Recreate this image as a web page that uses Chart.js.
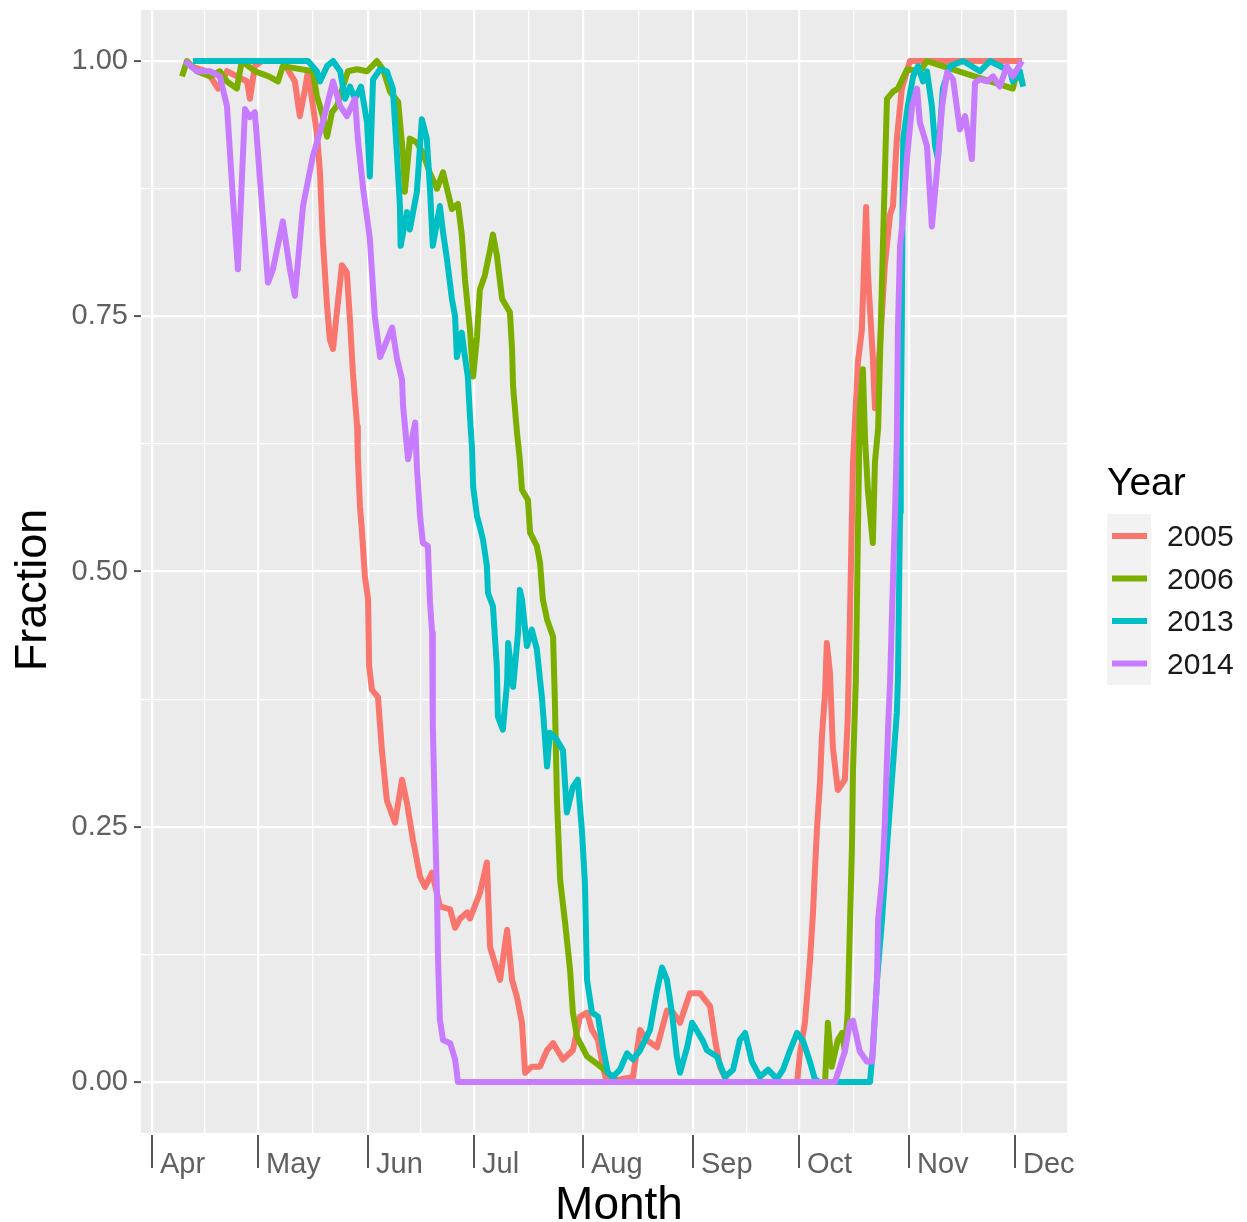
<!DOCTYPE html>
<html>
<head>
<meta charset="utf-8">
<script src="https://cdn.jsdelivr.net/npm/chart.js@4.4.1/dist/chart.umd.min.js"></script>
<style>
  html, body { margin: 0; padding: 0; background: #ffffff; }
  #wrap { position: relative; width: 1247px; height: 1222px; }
</style>
</head>
<body>
<div id="wrap"><canvas id="c" width="1247" height="1222"></canvas></div>
<script>
// ---- Data (x = days since 1 April, y = fraction) ----
const MONTH_LABELS = ['Apr', 'May', 'Jun', 'Jul', 'Aug', 'Sep', 'Oct', 'Nov', 'Dec'];
const MONTH_STARTS = [0, 30, 61, 91, 122, 153, 183, 214, 244];
const Y_TICKS = [0, 0.25, 0.5, 0.75, 1];
const YEARS = ['2005', '2006', '2013', '2014'];
const COLORS = ['#F8766D', '#7CAE00', '#00BFC4', '#C77CFF'];

const days2005 = [10.7, 15.6, 18.7, 21.2, 26.9, 27.7, 29.1, 31.1, 37.0, 40.4, 41.8, 43.3, 44.1, 46.6, 47.5, 48.3, 49.5, 50.3, 51.2, 52.3, 53.7, 55.1, 56.0, 56.8, 58.0, 58.2, 58.8, 59.4, 60.2, 61.1, 61.4, 62.2, 63.9, 65.0, 66.4, 68.7, 70.7, 72.1, 73.8, 75.8, 77.2, 79.2, 81.4, 84.3, 85.7, 87.1, 89.1, 89.9, 92.7, 94.7, 95.6, 98.4, 100.4, 101.8, 103.2, 104.6, 105.5, 107.4, 109.7, 111.7, 113.4, 116.2, 119.0, 121.0, 123.0, 124.4, 126.1, 127.5, 128.6, 136.0, 138.0, 139.9, 142.8, 145.6, 147.3, 149.3, 152.1, 154.9, 157.8, 159.2, 160.6, 162.6, 182.4, 183.2, 184.6, 186.0, 186.9, 187.4, 188.0, 188.9, 189.4, 190.3, 190.8, 191.7, 192.5, 193.9, 195.9, 196.7, 197.3, 198.2, 199.6, 200.7, 201.9, 202.4, 203.8, 204.4, 205.8, 207.2, 208.7, 209.5, 210.6, 212.0, 214.3, 246.0];
const frac2005 = [0.995, 0.99, 0.973, 0.99, 0.98, 0.963, 0.995, 1.0, 1.0, 0.98, 0.946, 0.973, 0.99, 0.93, 0.891, 0.825, 0.76, 0.727, 0.718, 0.755, 0.80, 0.793, 0.745, 0.695, 0.642, 0.613, 0.564, 0.538, 0.495, 0.473, 0.407, 0.384, 0.377, 0.325, 0.276, 0.254, 0.296, 0.273, 0.237, 0.201, 0.191, 0.205, 0.172, 0.169, 0.151, 0.16, 0.166, 0.16, 0.185, 0.215, 0.132, 0.10, 0.149, 0.10, 0.083, 0.058, 0.009, 0.015, 0.015, 0.031, 0.038, 0.022, 0.031, 0.064, 0.068, 0.051, 0.041, 0.015, 0.0, 0.005, 0.051, 0.041, 0.034, 0.07, 0.068, 0.058, 0.087, 0.087, 0.074, 0.041, 0.015, 0.0, 0.0, 0.028, 0.058, 0.117, 0.166, 0.205, 0.247, 0.296, 0.338, 0.381, 0.43, 0.40, 0.328, 0.286, 0.296, 0.355, 0.45, 0.607, 0.705, 0.737, 0.857, 0.793, 0.71, 0.66, 0.72, 0.80, 0.85, 0.858, 0.924, 0.973, 1.0, 1.0];

const days2006 = [8.5, 9.9, 12.7, 16.4, 19.2, 21.2, 24.0, 25.4, 29.1, 33.0, 35.6, 37.0, 45.5, 46.6, 48.3, 49.5, 50.9, 52.3, 54.0, 55.4, 58.0, 60.8, 63.6, 65.3, 67.3, 69.6, 71.0, 71.5, 72.9, 74.9, 76.6, 78.6, 80.6, 82.3, 83.4, 84.8, 86.5, 87.6, 88.5, 89.9, 90.8, 91.9, 92.7, 94.1, 95.6, 96.4, 97.5, 99.0, 101.2, 101.8, 102.1, 103.2, 104.0, 104.6, 106.3, 106.9, 108.8, 109.7, 110.5, 111.7, 113.4, 113.9, 114.2, 114.5, 115.4, 116.8, 118.2, 119.0, 120.2, 123.0, 126.1, 128.6, 131.5, 190.3, 191.1, 192.2, 193.9, 195.1, 195.9, 196.7, 197.3, 197.9, 198.2, 199.0, 199.6, 200.1, 201.0, 201.6, 202.4, 203.8, 204.4, 205.3, 205.8, 206.7, 207.8, 209.5, 210.9, 213.5, 217.1, 219.1, 243.4, 244.6, 246.0];
const frac2006 = [0.985, 1.0, 0.99, 0.985, 0.99, 0.98, 0.973, 1.0, 0.99, 0.985, 0.98, 0.995, 0.99, 0.966, 0.946, 0.926, 0.95, 0.956, 0.975, 0.99, 0.992, 0.99, 1.0, 0.992, 0.97, 0.96, 0.907, 0.872, 0.924, 0.92, 0.91, 0.89, 0.875, 0.891, 0.875, 0.855, 0.86, 0.83, 0.786, 0.737, 0.691, 0.73, 0.776, 0.79, 0.815, 0.83, 0.81, 0.767, 0.754, 0.718, 0.681, 0.636, 0.61, 0.58, 0.57, 0.538, 0.525, 0.509, 0.473, 0.453, 0.436, 0.375, 0.325, 0.276, 0.198, 0.156, 0.11, 0.068, 0.044, 0.025, 0.017, 0.01, 0.0, 0.0, 0.058, 0.015, 0.041, 0.048, 0.03, 0.068, 0.149, 0.23, 0.306, 0.394, 0.541, 0.656, 0.698, 0.63, 0.58, 0.528, 0.607, 0.64, 0.705, 0.825, 0.963, 0.97, 0.973, 0.992, 0.99, 1.0, 0.973, 0.99, 0.98];

const days2013 = [11.6, 44.1, 46.6, 47.5, 49.5, 51.2, 53.2, 54.6, 56.0, 57.4, 59.1, 60.8, 61.6, 62.5, 64.5, 66.4, 68.1, 69.3, 70.1, 70.3, 72.1, 72.9, 74.9, 76.3, 77.7, 78.6, 79.4, 81.4, 82.3, 83.4, 84.8, 85.7, 86.2, 87.6, 88.5, 89.3, 89.9, 90.5, 90.8, 91.9, 92.7, 93.6, 94.7, 95.0, 96.4, 97.5, 97.8, 99.2, 100.4, 100.7, 102.1, 103.5, 104.0, 104.6, 106.0, 107.4, 108.8, 110.3, 111.7, 112.5, 114.5, 116.2, 117.3, 119.0, 120.4, 121.6, 122.4, 123.0, 124.4, 126.1, 127.5, 128.9, 130.3, 132.3, 134.3, 136.0, 138.0, 140.8, 142.8, 144.2, 145.6, 147.0, 148.4, 149.3, 151.3, 152.7, 154.1, 155.8, 156.9, 159.7, 162.0, 164.3, 166.2, 167.7, 169.6, 171.9, 174.2, 176.7, 178.4, 180.4, 182.4, 184.1, 186.0, 187.4, 188.5, 203.0, 203.8, 205.0, 206.4, 207.8, 209.2, 210.6, 210.9, 211.5, 211.7, 212.0, 212.2, 212.4, 213.7, 215.2, 216.6, 218.0, 219.1, 220.5, 221.4, 222.2, 223.6, 225.6, 229.3, 234.1, 236.9, 242.6, 243.4, 245.4, 246.3];
const frac2013 = [1.0, 1.0, 0.99, 0.98, 0.995, 1.0, 0.99, 0.963, 0.975, 0.963, 0.975, 0.94, 0.887, 0.982, 0.992, 0.99, 0.973, 0.907, 0.858, 0.819, 0.852, 0.835, 0.872, 0.943, 0.924, 0.875, 0.819, 0.858, 0.832, 0.806, 0.767, 0.75, 0.71, 0.734, 0.71, 0.691, 0.652, 0.62, 0.583, 0.554, 0.544, 0.531, 0.505, 0.479, 0.466, 0.407, 0.358, 0.345, 0.391, 0.43, 0.387, 0.44, 0.482, 0.473, 0.427, 0.443, 0.424, 0.375, 0.309, 0.342, 0.335, 0.325, 0.264, 0.289, 0.296, 0.244, 0.195, 0.10, 0.068, 0.064, 0.034, 0.009, 0.005, 0.012, 0.028, 0.022, 0.031, 0.051, 0.09, 0.112, 0.10, 0.068, 0.025, 0.009, 0.034, 0.058, 0.05, 0.04, 0.031, 0.025, 0.005, 0.012, 0.041, 0.048, 0.02, 0.005, 0.012, 0.003, 0.012, 0.031, 0.048, 0.04, 0.02, 0.003, 0.0, 0.0, 0.03, 0.10, 0.159, 0.23, 0.296, 0.362, 0.394, 0.558, 0.64, 0.74, 0.858, 0.924, 0.956, 0.985, 0.995, 0.98, 0.99, 0.956, 0.917, 0.904, 0.973, 0.995, 1.0, 0.99, 1.0, 0.99, 0.98, 0.99, 0.975];

const days2014 = [9.3, 12.7, 16.4, 19.2, 21.2, 22.9, 24.3, 26.3, 27.7, 29.1, 31.1, 32.8, 34.2, 37.0, 39.0, 40.4, 42.7, 45.5, 48.3, 51.2, 53.2, 55.1, 57.4, 58.2, 59.7, 61.6, 63.0, 64.5, 67.9, 69.3, 70.7, 71.0, 72.4, 74.4, 74.9, 75.8, 76.6, 78.0, 78.6, 79.2, 79.4, 80.0, 80.6, 80.9, 81.4, 82.3, 84.3, 85.7, 86.5, 193.1, 195.9, 197.3, 198.2, 200.1, 202.1, 203.6, 205.0, 205.3, 206.4, 207.2, 208.1, 208.7, 209.5, 210.1, 210.6, 210.9, 211.5, 212.3, 213.5, 214.9, 216.3, 217.1, 219.1, 220.5, 221.9, 223.4, 224.8, 226.5, 228.4, 229.9, 231.8, 232.7, 234.1, 236.1, 237.8, 239.7, 241.7, 243.4, 246.0];
const frac2014 = [1.0, 0.99, 0.99, 0.985, 0.956, 0.865, 0.796, 0.953, 0.945, 0.95, 0.858, 0.783, 0.796, 0.843, 0.796, 0.77, 0.858, 0.907, 0.94, 0.98, 0.956, 0.946, 0.963, 0.924, 0.875, 0.826, 0.75, 0.71, 0.739, 0.708, 0.688, 0.662, 0.61, 0.646, 0.603, 0.554, 0.528, 0.525, 0.47, 0.44, 0.35, 0.26, 0.18, 0.117, 0.061, 0.041, 0.038, 0.022, 0.0, 0.0, 0.03, 0.058, 0.06, 0.03, 0.02, 0.02, 0.10, 0.159, 0.198, 0.254, 0.345, 0.394, 0.492, 0.56, 0.63, 0.737, 0.819, 0.845, 0.907, 0.956, 0.973, 0.94, 0.917, 0.838, 0.891, 0.956, 0.989, 0.982, 0.933, 0.946, 0.904, 0.979, 0.982, 0.98, 0.985, 0.975, 0.995, 0.985, 1.0];

const SERIES_DAYS = [days2005, days2006, days2013, days2014];
const SERIES_FRAC = [frac2005, frac2006, frac2013, frac2014];

// ---- Build datasets ----
const datasets = YEARS.map((yr, k) => ({
  label: yr,
  data: SERIES_DAYS[k].map((d, i) => ({ x: d, y: SERIES_FRAC[k][i] })),
  borderColor: COLORS[k],
  backgroundColor: COLORS[k],
  borderWidth: 6,
  pointRadius: 0,
  tension: 0,
  fill: false,
  borderJoinStyle: 'round',
  borderCapStyle: 'butt',
  order: YEARS.length - k
}));

// grid tick sets (majors + midpoints)
function withMidpoints(arr) {
  const out = [];
  for (let i = 0; i < arr.length; i++) {
    out.push({ value: arr[i], major: true });
    if (i < arr.length - 1) out.push({ value: (arr[i] + arr[i + 1]) / 2, major: false });
  }
  return out;
}
const X_GRID = withMidpoints(MONTH_STARTS);
const Y_GRID = withMidpoints(Y_TICKS);
const isMajorY = v => Y_TICKS.some(t => Math.abs(t - v) < 1e-9);
const isMajorX = v => MONTH_STARTS.some(t => Math.abs(t - v) < 1e-9);

const TICK_COLOR = '#606060';
const FONT = "'Liberation Sans', Arial, 'DejaVu Sans', sans-serif";

const decorPlugin = {
  id: 'decor',
  beforeDraw(chart) {
    const { ctx, chartArea: a } = chart;
    ctx.save();
    ctx.fillStyle = '#EBEBEB';
    ctx.fillRect(a.left, a.top, a.right - a.left, a.bottom - a.top);
    ctx.restore();
  },
  afterDraw(chart) {
    const { ctx, chartArea: a } = chart;
    const xs = chart.scales.x;
    ctx.save();
    // x-axis tick marks and labels
    ctx.strokeStyle = '#555555';
    ctx.lineWidth = 2;
    ctx.fillStyle = TICK_COLOR;
    ctx.font = '29px ' + FONT;
    ctx.textAlign = 'left';
    ctx.textBaseline = 'alphabetic';
    MONTH_STARTS.forEach((m, i) => {
      const px = Math.round(xs.getPixelForValue(m));
      ctx.beginPath();
      ctx.moveTo(px, a.bottom + 2);
      ctx.lineTo(px, a.bottom + 35);
      ctx.stroke();
      ctx.fillText(MONTH_LABELS[i], px + 8, a.bottom + 40);
    });
    // axis titles
    ctx.fillStyle = '#000000';
    ctx.font = '46px ' + FONT;
    ctx.textAlign = 'center';
    ctx.fillText('Month', (a.left + a.right) / 2 + 15, 1219);
    ctx.save();
    ctx.translate(46, 590);
    ctx.rotate(-Math.PI / 2);
    ctx.font = '45px ' + FONT;
    ctx.textBaseline = 'alphabetic';
    ctx.fillText('Fraction', 0, 0);
    ctx.restore();
    // legend
    ctx.textAlign = 'left';
    ctx.fillStyle = '#000000';
    ctx.font = '39px ' + FONT;
    ctx.fillText('Year', 1107, 495);
    ctx.fillStyle = '#F2F2F2';
    ctx.fillRect(1107, 514, 44, 171);
    ctx.font = '30px ' + FONT;
    ctx.textBaseline = 'middle';
    YEARS.forEach((yr, k) => {
      const cy = 536 + k * 42.5;
      ctx.strokeStyle = COLORS[k];
      ctx.lineWidth = 6;
      ctx.lineCap = 'butt';
      ctx.beginPath();
      ctx.moveTo(1112, cy);
      ctx.lineTo(1147, cy);
      ctx.stroke();
      ctx.fillStyle = '#1a1a1a';
      ctx.fillText(yr, 1167, cy + 2);
    });
    ctx.restore();
  }
};

new Chart(document.getElementById('c'), {
  type: 'line',
  data: { datasets },
  plugins: [decorPlugin],
  options: {
    responsive: false,
    animation: false,
    devicePixelRatio: 1,
    layout: { padding: { left: 0, right: 180, top: 10, bottom: 0 } },
    plugins: { legend: { display: false }, tooltip: { enabled: false }, title: { display: false } },
    scales: {
      x: {
        type: 'linear',
        min: -3.1,
        max: 258.7,
        afterBuildTicks: s => { s.ticks = X_GRID.map(t => ({ value: t.value })); },
        afterFit: s => { s.height = 89; s.paddingLeft = 0; s.paddingRight = 0; },
        ticks: { display: false },
        border: { display: false },
        grid: {
          drawTicks: false,
          color: '#FFFFFF',
          lineWidth: c => (c.tick && isMajorX(c.tick.value) ? 2.2 : 1.2)
        }
      },
      y: {
        type: 'linear',
        min: -0.05,
        max: 1.05,
        afterBuildTicks: s => { s.ticks = Y_GRID.map(t => ({ value: t.value })); },
        afterFit: s => { s.width = 141; s.paddingTop = 0; s.paddingBottom = 0; },
        border: { display: false },
        ticks: {
          autoSkip: false,
          padding: 6,
          color: TICK_COLOR,
          font: { family: FONT, size: 29 },
          callback: v => (isMajorY(v) ? Number(v).toFixed(2) : '')
        },
        grid: {
          color: '#FFFFFF',
          lineWidth: c => (c.tick && isMajorY(c.tick.value) ? 2.2 : 1.2),
          tickLength: 7,
          tickWidth: 2,
          tickColor: c => (c.tick && isMajorY(c.tick.value) ? '#555555' : 'rgba(0,0,0,0)')
        }
      }
    }
  }
});
</script>
</body>
</html>
